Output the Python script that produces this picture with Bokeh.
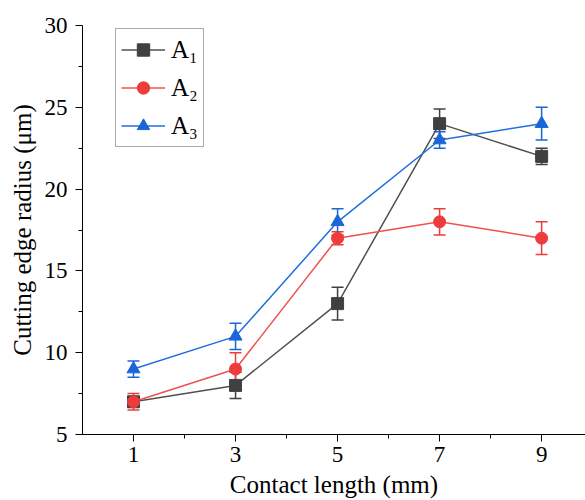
from bokeh.plotting import figure
from bokeh.models import ColumnDataSource, Whisker, FixedTicker, Range1d, Legend, LegendItem, TeeHead
from bokeh.embed import file_html
from bokeh.resources import INLINE

x = [1, 3, 5, 7, 9]
a1 = [7, 8, 13, 24, 22]
a1_err = [0.3, 0.8, 1.0, 0.9, 0.5]
a2 = [7, 9, 17, 18, 17]
a2_err = [0.5, 1.0, 0.4, 0.8, 1.0]
a3 = [9, 11, 18, 23, 24]
a3_err = [0.5, 0.8, 0.8, 0.5, 1.0]
labels = ["A\u2081", "A\u2082", "A\u2083"]

FONT = "Liberation Serif"

p = figure(width=585, height=500, output_backend="svg", toolbar_location=None,
           x_range=Range1d(0, 9.86), y_range=Range1d(5, 30),
           min_border_left=82, min_border_right=0, min_border_top=25, min_border_bottom=63)
p.outline_line_color = None
p.grid.visible = False
p.background_fill_color = "white"

for ax in (p.xaxis[0], p.yaxis[0]):
    ax.axis_line_color = "black"
    ax.axis_line_width = 1
    ax.major_tick_line_color = "black"
    ax.minor_tick_line_color = "black"
    ax.major_tick_in = 0
    ax.major_tick_out = 7
    ax.minor_tick_in = 0
    ax.minor_tick_out = 4
    ax.major_label_text_font = FONT
    ax.major_label_text_font_size = "23px"
    ax.major_label_text_color = "black"
    ax.axis_label_text_font = FONT
    ax.axis_label_text_font_size = "25px"
    ax.axis_label_text_font_style = "normal"
    ax.axis_label_text_color = "black"

p.xaxis.ticker = FixedTicker(ticks=[1, 3, 5, 7, 9], minor_ticks=[2, 4, 6, 8])
p.yaxis.ticker = FixedTicker(ticks=[5, 10, 15, 20, 25, 30], minor_ticks=[7.5, 12.5, 17.5, 22.5, 27.5])
p.xaxis.axis_label = "Contact length (mm)"
p.yaxis.axis_label = "Cutting edge radius (\u03bcm)"
p.xaxis.axis_label_standoff = 6
p.yaxis.axis_label_standoff = 6
p.xaxis.major_label_standoff = 5
p.yaxis.major_label_standoff = 8

series = [
    (a1, a1_err, "#505050", "#404040", "square", 12),
    (a2, a2_err, "#F05050", "#EE3B3B", "circle", 12),
    (a3, a3_err, "#1F6FE0", "#1A66D9", "triangle", 13),
]

items = []
for (vals, errs, lc, mc, marker, size), lab in zip(series, labels):
    src = ColumnDataSource(dict(x=x, y=vals,
                                lo=[v - e for v, e in zip(vals, errs)],
                                hi=[v + e for v, e in zip(vals, errs)]))
    w = Whisker(source=src, base="x", lower="lo", upper="hi",
                line_color=mc, line_width=1.5,
                upper_head=TeeHead(size=12, line_color=mc, line_width=1.5),
                lower_head=TeeHead(size=12, line_color=mc, line_width=1.5))
    p.add_layout(w)
    l = p.line("x", "y", source=src, line_color=lc, line_width=1.5)
    s = p.scatter("x", "y", source=src, marker=marker, size=size,
                  fill_color=mc, line_color=mc)
    items.append(LegendItem(label=lab, renderers=[l, s]))

legend = Legend(items=items, location=(33, 287))
legend.label_text_font = FONT
legend.label_text_font_size = "25px"
legend.label_text_color = "black"
legend.border_line_color = "#555555"
legend.border_line_width = 1
legend.glyph_width = 44
legend.glyph_height = 31
legend.label_height = 31
legend.spacing = 7
legend.padding = 5
legend.margin = 0
legend.label_standoff = 6
legend.label_width = 22
legend.background_fill_alpha = 1
p.add_layout(legend, "center")

open("out.html", "w").write(file_html(p, INLINE))
